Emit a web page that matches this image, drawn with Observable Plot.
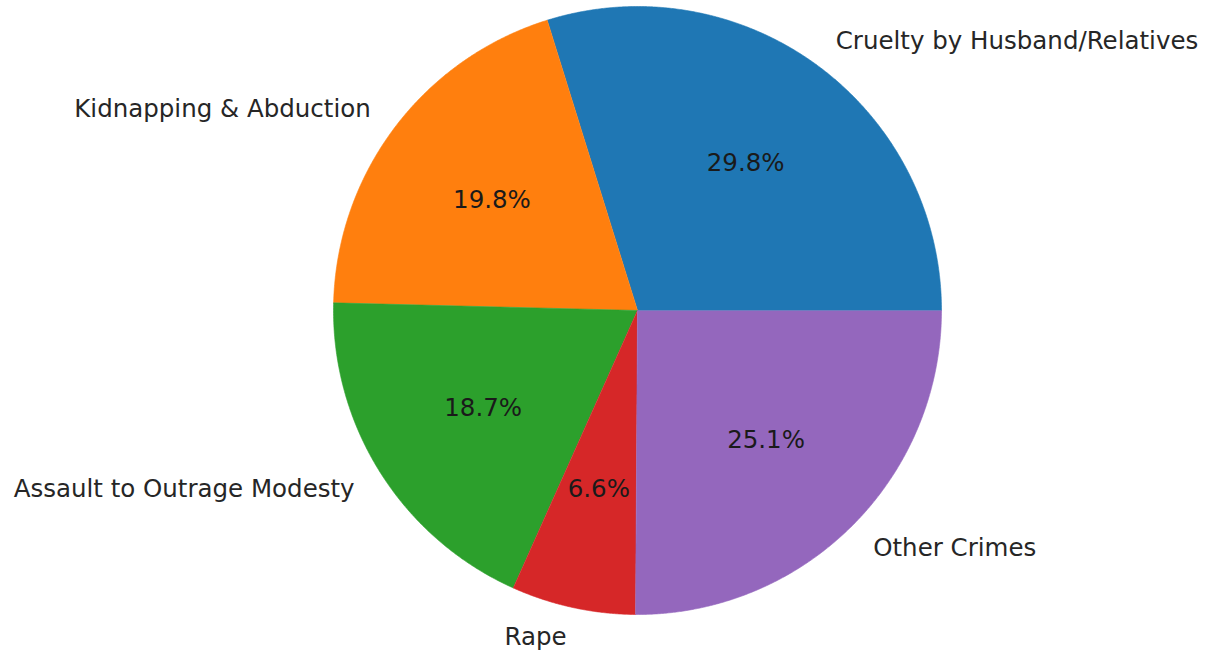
<!DOCTYPE html>
<html>
<head>
<meta charset="utf-8">
<script src="https://cdn.jsdelivr.net/npm/d3@7"></script>
<script src="https://cdn.jsdelivr.net/npm/@observablehq/plot@0.6"></script>
<style>
  html, body { margin: 0; padding: 0; background: #fff; }
  #chart svg { display: block; }
</style>
</head>
<body>
<div id="chart"></div>
<script>
// Data
const categories = ["Cruelty by Husband/Relatives", "Kidnapping & Abduction", "Assault to Outrage Modesty", "Rape", "Other Crimes"];
const shares = [29.8, 19.8, 18.7, 6.6, 25.1];
const colors = ["#1f77b4", "#ff7f0e", "#2ca02c", "#d62728", "#9467bd"];

const W = 1216, H = 654;
const R = 304;          // pixel radius
const cx = 637, cy = 310;

// Build slice geometry from the values (counter-clockwise from 3 o'clock, like matplotlib)
const total = d3.sum(shares);
let acc = 0;
const slices = categories.map((c, i) => {
  const a0 = acc / total * 2 * Math.PI;
  acc += shares[i];
  const a1 = acc / total * 2 * Math.PI;
  return {category: c, value: shares[i], a0, a1, mid: (a0 + a1) / 2};
});

const polyPts = [];
for (const s of slices) {
  polyPts.push({category: s.category, x: 0, y: 0});
  const n = Math.max(2, Math.ceil((s.a1 - s.a0) / 0.005));
  for (let k = 0; k <= n; k++) {
    const a = s.a0 + (s.a1 - s.a0) * k / n;
    polyPts.push({category: s.category, x: Math.cos(a), y: Math.sin(a)});
  }
}

const labels = slices.map(s => ({
  text: s.category,
  x: 1.1 * Math.cos(s.mid),
  y: 1.1 * Math.sin(s.mid)
}));
const pcts = slices.map(s => ({
  text: s.value.toFixed(1) + "%",
  x: 0.6 * Math.cos(s.mid),
  y: 0.6 * Math.sin(s.mid)
}));

const chart = Plot.plot({
  width: W,
  height: H,
  margin: 0,
  style: {background: "#fff", fontFamily: "DejaVu Sans"},
  x: {domain: [-cx / R, (W - cx) / R], axis: null},
  y: {domain: [-(H - cy) / R, cy / R], axis: null},
  color: {domain: categories, range: colors},
  marks: [
    Plot.line(polyPts, {x: "x", y: "y", z: "category", fill: "category", stroke: "category", strokeWidth: 0.6}),
    Plot.text(labels.filter(d => d.x >= 0), {x: "x", y: "y", text: "text", textAnchor: "start", fontSize: 24.5, fill: "#262626"}),
    Plot.text(labels.filter(d => d.x < 0), {x: "x", y: "y", text: "text", textAnchor: "end", fontSize: 24.5, fill: "#262626"}),
    Plot.text(pcts, {x: "x", y: "y", text: "text", fontSize: 24.5, fill: "#1a1a1a"})
  ]
});
document.getElementById("chart").appendChild(chart);
</script>
</body>
</html>
